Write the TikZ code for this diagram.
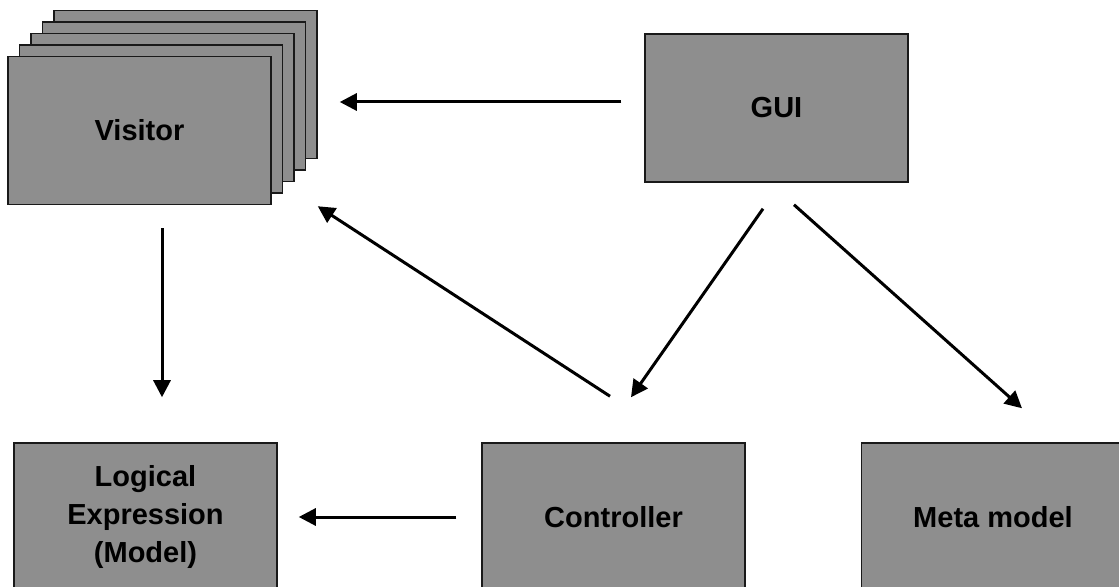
\documentclass[tikz,border=0pt]{standalone}
\usepackage{fontspec}
\setmainfont{Liberation Sans}
\usepackage{xcolor}
\usepackage{tikz}
\usetikzlibrary{arrows.meta, calc}
\definecolor{boxgray}{RGB}{142,142,142}

\begin{document}
\begin{tikzpicture}[
        x=0.5pt, y=-0.5pt,
        box/.style={draw=black!90, line width=0.75pt, fill=boxgray, align=center,
          minimum width=131.5pt, minimum height=74pt, inner sep=0pt,
          font=\bfseries\fontsize{14.5}{19}\selectfont},
        arr/.style={-{Triangle[length=8.5pt, width=8.5pt]}, line width=1.5pt}
      ]
      \useasboundingbox (0,0) rectangle (1119,587);
      % stacked visitors, back to front
      \foreach \i in {4,3,2,1}
        \node[box] (v\i) at (139.5+11.5*\i, 130.5-11.5*\i) {};
      \node[box] (visitor) at (139.5,130.5) {Visitor};
      \node[box] (gui) at (776.5,108) {GUI};
      \node[box] (logic) at (145.5,517) {Logical\\Expression\\(Model)};
      \node[box] (ctrl) at (613.5,517) {Controller};
      \node[box] (meta) at (993,517) {Meta model};
      \draw[arr] ($(gui.west)+(-23,-6)$) -- ($(v4.east)+(22,17.5)$);
      \draw[arr] ($(visitor.south)+(22.5,23)$) -- ($(logic.north)+(16.5,-45)$);
      \draw[arr] ($(ctrl.north)+(-3.5,-46)$) -- ($(visitor.south east)+(46,1)$);
      \draw[arr] ($(gui.south)+(-13.5,26)$) -- ($(ctrl.north)+(17.5,-45)$);
      \draw[arr] ($(gui.south)+(17.5,22)$) -- ($(meta.north)+(29,-34)$);
      \draw[arr] ($(ctrl.west)+(-25,0)$) -- ($(logic.east)+(21,0)$);
    \end{tikzpicture}
\end{document}
